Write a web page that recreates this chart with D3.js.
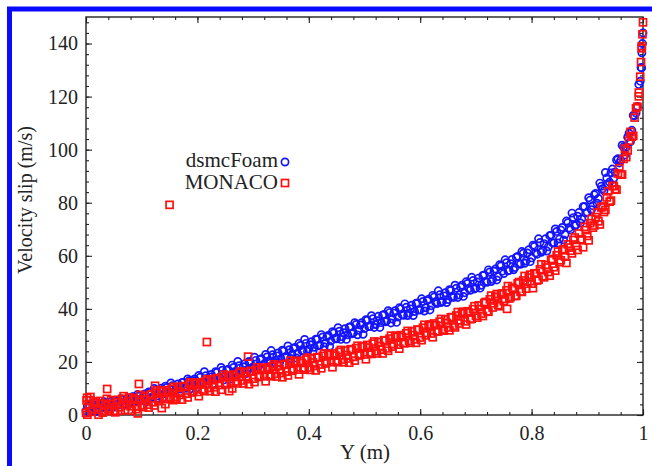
<!DOCTYPE html>
<html>
<head>
<meta charset="utf-8">
<script src="https://cdn.jsdelivr.net/npm/d3@7"></script>
<style>
  html, body { margin: 0; padding: 0; background: #fff; }
  svg { display: block; }
  text { font-family: "Liberation Serif", "DejaVu Serif", serif; fill: #222; }
</style>
</head>
<body>
<svg id="chart" width="652" height="466"></svg>
<script>
// Cell-centre positions Y (m), first half of the cells
const cellsA = [0.000,0.005,0.010,0.015,0.020,0.025,0.030,0.035,0.040,0.045,0.050,0.055,0.060,0.065,0.070,0.075,0.080,0.085,0.090,0.095,
0.100,0.105,0.110,0.115,0.120,0.125,0.130,0.135,0.140,0.145,0.150,0.155,0.160,0.165,0.170,0.175,0.180,0.185,0.190,0.195,
0.200,0.205,0.210,0.215,0.220,0.225,0.230,0.235,0.240,0.245,0.250,0.255,0.260,0.265,0.270,0.275,0.280,0.285,0.290,0.295,
0.300,0.305,0.310,0.315,0.320,0.325,0.330,0.335,0.340,0.345,0.350,0.355,0.360,0.365,0.370,0.375,0.380,0.385,0.390,0.395,
0.400,0.405,0.410,0.415,0.420,0.425,0.430,0.435,0.440,0.445,0.450,0.455,0.460,0.465,0.470,0.475,0.480,0.485,0.490,0.495,
0.500,0.505,0.510,0.515,0.520,0.525,0.530,0.535,0.540,0.545,0.550,0.555,0.560,0.565,0.570,0.575,0.580,0.585,0.590,0.595,
0.600,0.605,0.610,0.615,0.620,0.625,0.630,0.635,0.640,0.645,0.650,0.655,0.660,0.665,0.670,0.675,0.680,0.685,0.690,0.695,
0.700,0.705,0.710,0.715,0.720,0.725,0.730,0.735,0.740,0.745,0.750,0.755,0.760,0.765,0.770,0.775,0.780,0.785,0.790,0.795,
0.800,0.805,0.810,0.815,0.820,0.825,0.830,0.835,0.840,0.845,0.850,0.855,0.860,0.865,0.870,0.875,0.880,0.885,0.890,0.895,
0.900,0.905,0.910,0.915,0.920,0.925,0.930,0.935,0.940,0.945,0.950,0.955,0.960,0.965,0.970,0.975,0.980,0.985,0.990,0.995];

// Cell-centre positions Y (m), second half of the cells
const cellsB = [0.0025,0.0075,0.0125,0.0175,0.0225,0.0275,0.0325,0.0375,0.0425,0.0475,0.0525,0.0575,0.0625,0.0675,0.0725,0.0775,0.0825,0.0875,0.0925,0.0975,
0.1025,0.1075,0.1125,0.1175,0.1225,0.1275,0.1325,0.1375,0.1425,0.1475,0.1525,0.1575,0.1625,0.1675,0.1725,0.1775,0.1825,0.1875,0.1925,0.1975,
0.2025,0.2075,0.2125,0.2175,0.2225,0.2275,0.2325,0.2375,0.2425,0.2475,0.2525,0.2575,0.2625,0.2675,0.2725,0.2775,0.2825,0.2875,0.2925,0.2975,
0.3025,0.3075,0.3125,0.3175,0.3225,0.3275,0.3325,0.3375,0.3425,0.3475,0.3525,0.3575,0.3625,0.3675,0.3725,0.3775,0.3825,0.3875,0.3925,0.3975,
0.4025,0.4075,0.4125,0.4175,0.4225,0.4275,0.4325,0.4375,0.4425,0.4475,0.4525,0.4575,0.4625,0.4675,0.4725,0.4775,0.4825,0.4875,0.4925,0.4975,
0.5025,0.5075,0.5125,0.5175,0.5225,0.5275,0.5325,0.5375,0.5425,0.5475,0.5525,0.5575,0.5625,0.5675,0.5725,0.5775,0.5825,0.5875,0.5925,0.5975,
0.6025,0.6075,0.6125,0.6175,0.6225,0.6275,0.6325,0.6375,0.6425,0.6475,0.6525,0.6575,0.6625,0.6675,0.6725,0.6775,0.6825,0.6875,0.6925,0.6975,
0.7025,0.7075,0.7125,0.7175,0.7225,0.7275,0.7325,0.7375,0.7425,0.7475,0.7525,0.7575,0.7625,0.7675,0.7725,0.7775,0.7825,0.7875,0.7925,0.7975,
0.8025,0.8075,0.8125,0.8175,0.8225,0.8275,0.8325,0.8375,0.8425,0.8475,0.8525,0.8575,0.8625,0.8675,0.8725,0.8775,0.8825,0.8875,0.8925,0.8975,
0.9025,0.9075,0.9125,0.9175,0.9225,0.9275,0.9325,0.9375,0.9425,0.9475,0.9525,0.9575,0.9625,0.9675,0.9725,0.9775,0.9825,0.9875,0.9925,0.9975];

// Near-wall positions Y (m)
const wallFoam = [0.9965,0.998,0.999,1.000];
const wallMonaco = [0.9925,0.9965,0.998,0.999,1.000,0.001,0.002,0.008];

// Isolated MONACO samples Y (m)
const strayMonacoY = [0.038,0.095,0.124,0.150,0.217,0.291,0.257,0.157,0.093,0.136,0.756];

// dsmcFoam velocity slip (m/s) on cellsA
const foamA = [1.5,3.4,1.8,3.9,2.1,4.2,2.6,4.5,3.0,5.1,3.3,5.4,3.9,5.8,4.1,6.3,4.8,6.9,5.2,7.1,
5.6,7.9,6.0,8.6,6.9,9.3,7.2,10.1,8.0,10.4,8.6,11.0,9.2,11.7,9.8,12.3,10.1,12.9,11.0,13.6,
11.6,14.2,12.1,14.8,12.9,15.3,13.4,16.0,14.2,16.9,14.8,17.2,15.1,17.9,16.1,18.6,16.5,19.3,17.2,19.8,
18.1,20.6,18.5,21.2,19.3,21.9,20.0,22.7,20.6,23.4,21.2,24.1,22.0,24.6,22.8,25.5,23.3,26.2,24.1,27.0,
24.8,27.6,25.5,28.5,26.3,29.4,27.1,30.0,27.9,30.9,28.7,31.6,29.5,32.5,30.2,33.3,31.0,34.1,31.9,34.8,
32.6,35.7,33.4,36.3,34.1,37.2,34.8,37.9,35.5,38.6,36.2,39.3,36.9,40.0,37.6,40.6,38.3,41.4,39.0,42.1,
39.6,42.8,40.4,43.6,41.2,44.5,42.0,45.3,42.8,46.1,43.5,46.9,44.3,47.8,45.2,48.9,46.1,49.6,47.0,50.7,
47.9,51.6,48.9,52.8,50.0,53.9,51.1,55.0,52.2,56.2,53.3,57.4,54.5,58.6,55.6,59.8,56.8,61.0,58.0,62.3,
59.2,63.5,60.6,65.0,62.0,66.4,63.4,67.8,64.8,69.2,66.3,70.7,68.0,72.5,69.8,74.4,71.7,76.3,73.9,78.6,
76.4,81.0,78.9,83.5,81.6,86.2,84.5,89.3,87.8,92.7,91.6,96.6,96.0,101.0,101.0,106.2,107.3,112.8,116.3,125.8];

// dsmcFoam velocity slip (m/s) on cellsB
const foamB = [3.4,1.1,3.1,1.3,4.1,2.8,5.0,2.8,4.1,2.8,5.2,4.0,6.1,3.8,5.8,4.0,6.8,5.5,7.7,5.5,
6.9,4.9,8.7,6.6,10.0,6.3,9.3,6.5,10.9,8.8,12.1,8.6,10.5,8.5,12.3,10.2,13.6,9.9,12.9,10.1,
14.9,12.2,16.3,11.8,14.3,11.7,16.3,13.7,17.9,13.2,16.9,13.3,18.8,16.1,20.2,15.7,18.2,15.6,20.2,17.6,
21.8,17.1,20.9,17.3,22.8,20.1,24.3,19.8,22.3,19.7,24.4,21.8,26.0,21.3,25.1,21.5,27.0,24.3,28.5,24.0,
26.5,24.0,28.6,26.1,30.3,25.7,29.4,25.9,31.4,28.8,32.9,28.5,31.0,28.5,33.1,30.6,34.8,30.2,33.9,30.4,
35.9,33.3,37.4,33.0,35.5,33.0,37.6,35.1,39.3,34.7,38.4,34.9,40.4,37.8,41.9,37.5,40.0,37.5,42.1,39.6,
43.8,39.2,43.1,39.6,45.1,42.5,46.8,42.4,44.9,42.4,47.2,44.7,48.9,44.3,48.2,44.7,50.2,47.6,51.9,47.5,
50.1,47.8,52.6,50.3,54.7,50.3,54.2,50.9,56.6,54.2,58.5,54.3,57.0,54.7,59.5,57.2,61.6,57.2,61.1,57.8,
64.0,61.1,66.4,61.3,64.6,61.8,67.6,64.9,70.1,64.8,69.7,66.0,73.1,70.5,76.1,71.3,74.9,72.4,78.5,76.1,
81.9,77.4,83.0,79.8,87.4,85.3,91.4,87.1,91.2,89.2,96.1,95.0,101.7,98.0,104.7,103.0,112.9,113.8,124.6,130.8];

// dsmcFoam velocity slip (m/s) at the wall cells
const foamWall = [131.0,136.5,140.0,144.0];

// MONACO velocity slip (m/s) on cellsA
const monacoA = [0.8,3.9,1.2,4.6,2.0,5.3,0.9,4.1,2.4,5.6,1.6,4.8,2.9,6.1,1.9,5.2,3.3,6.4,2.2,5.8,
3.6,7.0,3.9,7.6,4.8,8.4,5.4,9.1,6.0,9.4,6.5,9.9,6.8,10.6,7.6,10.9,8.0,11.6,8.5,12.0,
8.7,12.3,9.6,12.8,10.2,13.4,10.5,13.9,11.3,14.3,11.6,14.9,12.1,15.2,12.6,15.8,13.0,16.1,13.5,16.6,
13.7,17.0,14.3,17.4,14.6,17.9,15.0,18.3,15.5,18.6,15.8,19.2,16.3,19.5,16.7,20.0,17.1,20.4,17.6,20.9,
17.9,21.4,18.5,21.8,19.0,22.3,19.4,22.7,19.9,23.2,20.3,23.8,20.9,24.3,21.3,24.8,21.9,25.2,22.4,25.9,
22.8,26.4,23.5,26.9,24.0,27.5,24.6,28.2,25.1,28.8,25.8,29.5,26.5,30.1,27.1,30.8,27.9,31.5,28.5,32.2,
29.2,32.9,30.0,33.7,30.7,34.5,31.5,35.2,32.2,36.0,33.0,36.8,33.7,37.5,34.5,38.3,35.3,39.1,36.1,39.9,
37.4,41.3,38.2,42.2,39.1,43.6,40.5,44.5,41.4,45.5,42.9,47.0,43.9,48.0,44.9,49.6,46.5,50.7,47.6,51.8,
49.5,53.4,50.7,54.9,52.3,56.5,53.9,58.3,55.7,60.2,57.6,62.1,59.7,64.3,61.9,66.0,63.8,68.4,66.2,70.9,
67.5,72.3,70.6,74.6,73.0,78.2,76.5,82.0,80.4,86.3,85.1,91.0,90.6,96.5,97.2,103.4,104.9,112.1,116.2,127.5];

// MONACO velocity slip (m/s) on cellsB
const monacoB = [0.1,5.6,2.2,5.1,0.1,4.3,1.7,6.1,1.5,4.1,1.0,5.7,1.6,7.1,3.7,6.6,1.6,5.8,3.2,7.6,
3.0,5.8,2.8,7.7,3.6,9.3,6.0,9.1,4.1,8.5,6.0,10.6,6.0,8.8,5.8,10.7,6.6,12.3,9.0,12.1,
7.1,11.5,9.0,13.5,9.0,11.7,8.8,13.6,9.5,15.2,11.9,15.0,10.0,14.3,11.9,16.4,11.9,14.6,11.6,16.5,
12.4,18.0,14.7,17.7,12.7,17.1,14.6,19.1,14.5,17.2,14.2,19.0,14.9,20.5,17.2,20.3,15.3,19.6,17.1,21.6,
17.0,19.8,16.8,21.6,17.6,23.2,20.0,23.0,18.0,22.4,19.9,24.5,19.9,22.6,19.7,24.5,20.5,26.1,22.8,25.9,
21.0,25.4,23.0,27.7,23.2,26.0,23.2,28.1,24.2,29.9,26.7,29.9,25.0,29.4,27.1,31.7,27.2,30.1,27.2,32.1,
28.2,34.0,30.9,34.1,29.3,33.8,31.5,36.2,31.8,34.7,31.9,36.9,33.0,38.8,35.7,38.9,34.1,38.6,36.3,41.0,
36.7,39.9,37.3,42.6,38.9,45.0,42.1,45.6,41.0,45.8,43.7,48.6,44.4,47.5,44.9,50.1,46.4,52.4,49.5,52.9,
47.8,53.4,51.0,56.8,51.9,55.6,52.5,58.8,54.4,61.6,58.3,62.5,57.3,63.1,60.9,66.9,62.2,66.1,63.2,69.7,
65.8,73.9,71.4,76.3,71.8,78.6,77.3,84.3,80.8,86.3,84.9,93.0,90.6,100.4,99.7,106.7,105.2,115.6,120.1,138.2];

// MONACO velocity slip (m/s) at the wall cells
const monacoWall = [121.5,133.0,139.0,143.5,148.0,5.5,6.5,6.8];

// Isolated MONACO samples, velocity slip (m/s)
const strayMonacoSlip = [9.8,11.7,11.0,79.2,27.5,22.0,9.0,5.6,0.6,2.6,40.0];

const seriesNames = ["dsmcFoam", "MONACO"];
const xTicks = [0, 0.2, 0.4, 0.6, 0.8, 1];
const xTickLabels = ["0", "0.2", "0.4", "0.6", "0.8", "1"];
const yTicks = [0, 20, 40, 60, 80, 100, 120, 140];
const yTickLabels = ["0", "20", "40", "60", "80", "100", "120", "140"];

const BLUE = "#1414ff";
const RED = "#ff1010";

const svg = d3.select("#chart");
const padL = 86, padR = 643, padT = 17, padB = 415;

const x = d3.scaleLinear().domain([0, 1]).range([padL, padR]);
const y = d3.scaleLinear().domain([0, 150]).range([padB, padT]);

// outer frame
svg.append("rect")
  .attr("x", 9.5).attr("y", 9).attr("width", 700).attr("height", 600)
  .attr("fill", "none").attr("stroke", "#0a0aff").attr("stroke-width", 5);

// minor ticks
const xMinor = d3.range(0, 1.0001, 0.04);
const yMinor = d3.range(0, 150.001, 4);
function tickAxis(axis) {
  return g => { g.call(axis); g.select(".domain").remove();
    g.selectAll(".tick line").attr("stroke", "#222").attr("stroke-width", 1.1); };
}
svg.append("g").attr("transform", `translate(0,${padB})`)
  .call(tickAxis(d3.axisBottom(x).tickValues(xMinor).tickSize(-3).tickFormat("")));
svg.append("g").attr("transform", `translate(0,${padT})`)
  .call(tickAxis(d3.axisTop(x).tickValues(xMinor).tickSize(-3).tickFormat("")));
svg.append("g").attr("transform", `translate(${padL},0)`)
  .call(tickAxis(d3.axisLeft(y).tickValues(yMinor).tickSize(-3).tickFormat("")));
svg.append("g").attr("transform", `translate(${padR},0)`)
  .call(tickAxis(d3.axisRight(y).tickValues(yMinor).tickSize(-3).tickFormat("")));

// major ticks with labels
svg.append("g").attr("transform", `translate(0,${padB})`)
  .call(tickAxis(d3.axisBottom(x).tickValues(xTicks).tickSize(-6).tickPadding(11)
    .tickFormat((d, i) => xTickLabels[i])));
svg.append("g").attr("transform", `translate(0,${padT})`)
  .call(tickAxis(d3.axisTop(x).tickValues(xTicks).tickSize(-6).tickFormat("")));
svg.append("g").attr("transform", `translate(${padL},0)`)
  .call(tickAxis(d3.axisLeft(y).tickValues(yTicks).tickSize(-6).tickPadding(8)
    .tickFormat((d, i) => yTickLabels[i])));
svg.append("g").attr("transform", `translate(${padR},0)`)
  .call(tickAxis(d3.axisRight(y).tickValues(yTicks).tickSize(-6).tickFormat("")));

svg.selectAll(".tick text")
  .attr("font-family", "Liberation Serif, serif").attr("font-size", 20).attr("fill", "#222");

// plot frame
svg.append("rect")
  .attr("x", padL).attr("y", padT).attr("width", padR - padL).attr("height", padB - padT)
  .attr("fill", "none").attr("stroke", "#222").attr("stroke-width", 1.4);

// axis titles
svg.append("text").attr("x", 365).attr("y", 459).attr("text-anchor", "middle")
  .attr("font-size", 21).text("Y (m)");
svg.append("text").attr("transform", "translate(32,200) rotate(-90)")
  .attr("text-anchor", "middle").attr("font-size", 20).text("Velocity slip (m/s)");

const pair = (ys, vs) => ys.map((d, i) => ({ yw: d, v: vs[i] }));
const foam = [...pair(cellsA, foamA), ...pair(cellsB, foamB), ...pair(wallFoam, foamWall)];
const monaco = [...pair(cellsA, monacoA), ...pair(cellsB, monacoB), ...pair(wallMonaco, monacoWall),
  ...pair(strayMonacoY, strayMonacoSlip)];

const R = 3.6, SQ = 7, SW = 1.7;

// dsmcFoam samples
svg.append("g").selectAll("circle").data(foam).join("circle")
  .attr("cx", d => x(d.yw)).attr("cy", d => y(d.v)).attr("r", R)
  .attr("fill", "none").attr("stroke", BLUE).attr("stroke-width", SW);

// MONACO samples
svg.append("g").selectAll("rect").data(monaco).join("rect")
  .attr("x", d => x(d.yw) - SQ / 2).attr("y", d => y(d.v) - SQ / 2)
  .attr("width", SQ).attr("height", SQ)
  .attr("fill", "none").attr("stroke", RED).attr("stroke-width", SW);

// legend
const legend = svg.append("g");
legend.append("text").attr("x", 278).attr("y", 167).attr("text-anchor", "end")
  .attr("font-size", 21).text(seriesNames[0]);
legend.append("text").attr("x", 278).attr("y", 189).attr("text-anchor", "end")
  .attr("font-size", 21).text(seriesNames[1]);
legend.append("circle").attr("cx", 285).attr("cy", 162).attr("r", R)
  .attr("fill", "none").attr("stroke", BLUE).attr("stroke-width", SW);
legend.append("rect").attr("x", 285 - SQ / 2).attr("y", 183 - SQ / 2).attr("width", SQ).attr("height", SQ)
  .attr("fill", "none").attr("stroke", RED).attr("stroke-width", SW);
</script>
</body>
</html>
